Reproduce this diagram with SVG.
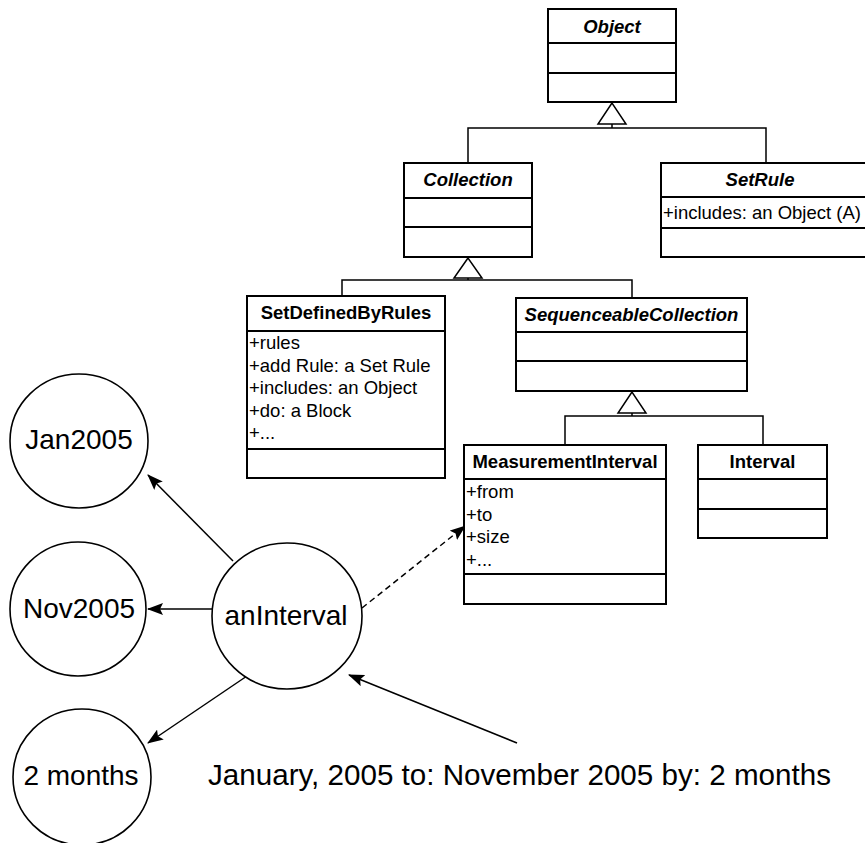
<svg xmlns="http://www.w3.org/2000/svg" width="865" height="843" viewBox="0 0 865 843">
<defs>
<style>
.box{fill:#fff;stroke:#000;stroke-width:2}
.div{stroke:#000;stroke-width:2}
.t{font-family:"Liberation Sans",Arial,sans-serif;font-size:18.5px;font-weight:bold;text-anchor:middle;fill:#000}
.ti{font-style:italic}
.a{font-family:"Liberation Sans",Arial,sans-serif;font-size:18.5px;fill:#000}
.c{fill:#fff;stroke:#000;stroke-width:1.6}
.ct{font-family:"Liberation Sans",Arial,sans-serif;font-size:28px;text-anchor:middle;fill:#000}
.ln{fill:none;stroke:#000;stroke-width:1.5}
.tri{fill:#fff;stroke:#000;stroke-width:1.5}
</style>
<marker id="arr" viewBox="0 0 16 12" refX="15" refY="6" markerWidth="16" markerHeight="12" markerUnits="userSpaceOnUse" orient="auto">
<path d="M0,0 L16,6 L0,12 L3,6 Z" fill="#000"/>
</marker>
</defs>

<g id="connectors">
<polygon class="tri" points="612,103 598,124 626,124"/>
<path class="ln" d="M612,124 V128 M468,163 V128 H766 V163"/>
<polygon class="tri" points="468,258 454,278 482,278"/>
<path class="ln" d="M468,278 V280 M342,296 V280 H632 V298"/>
<polygon class="tri" points="632,392 618,413 646,413"/>
<path class="ln" d="M632,413 V416 M565,445 V416 H763 V445"/>
<line class="ln" x1="233" y1="561" x2="148" y2="475" marker-end="url(#arr)"/>
<line class="ln" x1="212" y1="609" x2="148" y2="609" marker-end="url(#arr)"/>
<line class="ln" x1="247" y1="676" x2="148" y2="743" marker-end="url(#arr)"/>
<line class="ln" x1="517" y1="743" x2="349" y2="675" marker-end="url(#arr)"/>
<line class="ln" x1="362" y1="608" x2="465" y2="526" stroke-dasharray="6,4" marker-end="url(#arr)"/>
</g>

<g id="Object">
<rect class="box" x="548" y="9" width="128" height="93"/>
<line class="div" x1="548" y1="43" x2="676" y2="43"/>
<line class="div" x1="548" y1="73" x2="676" y2="73"/>
<text class="t ti" x="612" y="33">Object</text>
</g>

<g id="Collection">
<rect class="box" x="404" y="163" width="128" height="94"/>
<line class="div" x1="404" y1="198" x2="532" y2="198"/>
<line class="div" x1="404" y1="227" x2="532" y2="227"/>
<text class="t ti" x="468" y="186">Collection</text>
</g>

<g id="SetRule">
<rect class="box" x="661" y="163" width="206" height="94"/>
<line class="div" x1="661" y1="197" x2="867" y2="197"/>
<line class="div" x1="661" y1="228" x2="867" y2="228"/>
<text class="t ti" x="760" y="186">SetRule</text>
<text class="a" x="663" y="219">+includes: an Object (A)</text>
</g>

<g id="SetDefinedByRules">
<rect class="box" x="247" y="296" width="198" height="182"/>
<line class="div" x1="247" y1="331" x2="445" y2="331"/>
<line class="div" x1="247" y1="449" x2="445" y2="449"/>
<text class="t" x="346" y="319">SetDefinedByRules</text>
<text class="a" x="249" y="349">+rules</text>
<text class="a" x="249" y="372">+add Rule: a Set Rule</text>
<text class="a" x="249" y="394">+includes: an Object</text>
<text class="a" x="249" y="417">+do: a Block</text>
<text class="a" x="249" y="439">+...</text>
</g>

<g id="SequenceableCollection">
<rect class="box" x="516" y="298" width="231" height="93"/>
<line class="div" x1="516" y1="332" x2="747" y2="332"/>
<line class="div" x1="516" y1="361" x2="747" y2="361"/>
<text class="t ti" x="631.5" y="321">SequenceableCollection</text>
</g>

<g id="MeasurementInterval">
<rect class="box" x="464" y="445" width="202" height="159"/>
<line class="div" x1="464" y1="479" x2="666" y2="479"/>
<line class="div" x1="464" y1="574" x2="666" y2="574"/>
<text class="t" x="565" y="468">MeasurementInterval</text>
<text class="a" x="466" y="498">+from</text>
<text class="a" x="466" y="521">+to</text>
<text class="a" x="466" y="543">+size</text>
<text class="a" x="466" y="566">+...</text>
</g>

<g id="Interval">
<rect class="box" x="698" y="445" width="129" height="93"/>
<line class="div" x1="698" y1="479" x2="827" y2="479"/>
<line class="div" x1="698" y1="509" x2="827" y2="509"/>
<text class="t" x="762.5" y="468">Interval</text>
</g>

<g id="Jan2005">
<ellipse class="c" cx="79" cy="441" rx="69" ry="67"/>
<text class="ct" x="79" y="449">Jan2005</text>
</g>

<g id="Nov2005">
<ellipse class="c" cx="78" cy="609" rx="68" ry="67"/>
<text class="ct" x="79" y="618">Nov2005</text>
</g>

<g id="TwoMonths">
<ellipse class="c" cx="82" cy="777" rx="69" ry="68"/>
<text class="ct" x="81" y="785">2 months</text>
</g>

<g id="anInterval">
<ellipse class="c" cx="287" cy="616" rx="75" ry="73"/>
<text class="ct" x="286" y="625">anInterval</text>
</g>

<g id="expression">
<text class="ct" x="208" y="785" style="text-anchor:start;font-size:29.6px">January, 2005 to: November 2005 by: 2 months</text>
</g>
</svg>
